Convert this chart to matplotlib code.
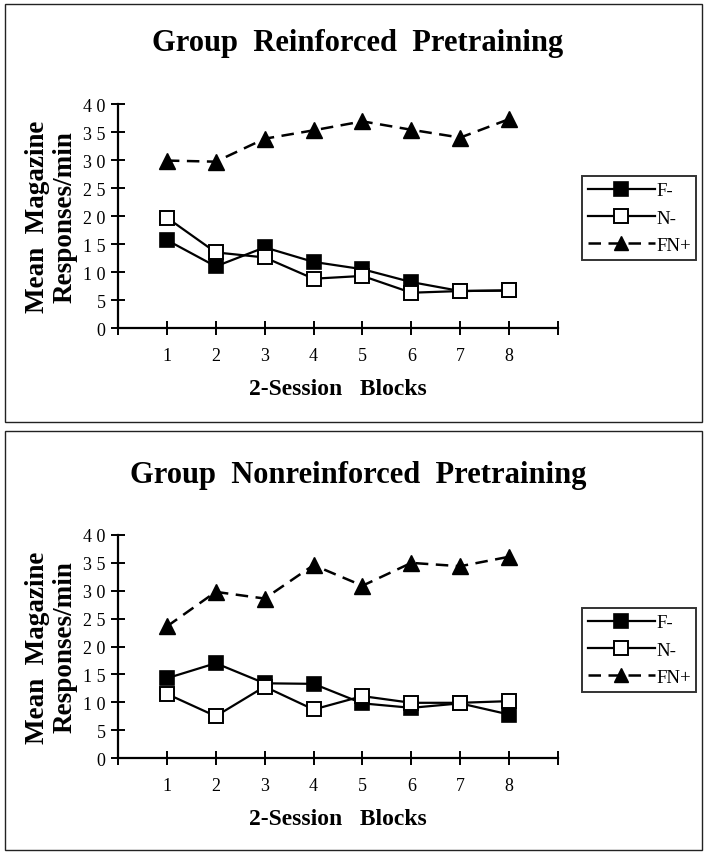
import matplotlib
matplotlib.use("Agg")
import matplotlib.pyplot as plt
from matplotlib.patches import Rectangle

blocks = [1, 2, 3, 4, 5, 6, 7, 8]
y_ticks = [0, 5, 10, 15, 20, 25, 30, 35, 40]
y_tick_labels = ["0", "5", "1 0", "1 5", "2 0", "2 5", "3 0", "3 5", "4 0"]

reinf_F = [15.7, 11.0, 14.4, 11.8, 10.5, 8.2, 6.6, 6.7]
reinf_N = [19.7, 13.5, 12.6, 8.8, 9.3, 6.3, 6.6, 6.7]
reinf_FN = [29.9, 29.7, 33.8, 35.3, 36.9, 35.4, 34.0, 37.3]

nonr_F = [14.3, 17.0, 13.4, 13.3, 9.8, 9.0, 9.8, 7.8]
nonr_N = [11.5, 7.5, 12.8, 8.7, 11.1, 9.9, 9.9, 10.2]
nonr_FN = [23.6, 29.8, 28.6, 34.6, 30.9, 35.0, 34.4, 36.1]

titles = ["Group  Reinforced  Pretraining", "Group  Nonreinforced  Pretraining"]
series_names = ["F-", "N-", "FN+"]
xlabel = "2-Session   Blocks"
ylabel = "Mean  Magazine\nResponses/min"

plt.rcParams['font.family'] = ['Liberation Serif', 'DejaVu Serif']

W, H = 704, 853
fig = plt.figure(figsize=(W / 100, H / 100), dpi=100)


def frame(x0, y0, x1, y1):
    fig.patches.append(Rectangle((x0 / W, 1 - y1 / H), (x1 - x0) / W, (y1 - y0) / H,
                                 transform=fig.transFigure, fill=False,
                                 edgecolor='#222222', linewidth=1.0))


frame(5, 5, 702, 423)
frame(5, 432, 702, 851)

panels = [
    dict(data=(reinf_F, reinf_N, reinf_FN), top=105, bottom=329, title_y=44, legend_y=219),
    dict(data=(nonr_F, nonr_N, nonr_FN), top=536, bottom=759, title_y=475, legend_y=651),
]

ax_left, ax_right = 118, 558

for p, title in zip(panels, titles):
    ax = fig.add_axes([ax_left / W, 1 - p['bottom'] / H,
                       (ax_right - ax_left) / W, (p['bottom'] - p['top']) / H])
    F, N, FN = p['data']
    lF, = ax.plot(blocks, F, '-', color='black', lw=1.6, marker='s', ms=9.5,
                  mfc='black', mec='black', mew=1.2, label=series_names[0], zorder=3)
    lN, = ax.plot(blocks, N, '-', color='black', lw=1.6, marker='s', ms=9.5,
                  mfc='white', mec='black', mew=1.4, label=series_names[1], zorder=4)
    lFN, = ax.plot(blocks, FN, '--', color='black', lw=1.8, marker='^', ms=11,
                   mfc='black', mec='black', dashes=(5, 3), label=series_names[2], zorder=3)
    ax.set_xlim(0, 9)
    ax.set_ylim(0, 40)
    ax.set_xticks(range(0, 10))
    ax.set_xticklabels([""] + [str(b) for b in blocks] + [""])
    ax.set_yticks(y_ticks)
    ax.set_yticklabels(y_tick_labels)
    ax.spines['top'].set_visible(False)
    ax.spines['right'].set_visible(False)
    ax.spines['left'].set_linewidth(1.6)
    ax.spines['bottom'].set_linewidth(1.6)
    ax.tick_params(axis='both', direction='inout', length=10, width=1.4, labelsize=13)
    ax.tick_params(axis='x', pad=9)
    ax.tick_params(axis='y', pad=4)
    ax.set_xlabel(xlabel, fontsize=17, fontweight='bold', labelpad=10)
    ax.set_ylabel(ylabel, fontsize=19.5, fontweight='bold', labelpad=4, linespacing=1.1)
    ax.patch.set_alpha(0)
    fig.text(358 / W, 1 - p['title_y'] / H, title,
             ha='center', va='center', fontsize=22, fontweight='bold')
    leg = ax.legend(handles=[lF, lN, lFN], loc='center left',
                    bbox_to_anchor=(582 / W, 1 - p['legend_y'] / H),
                    bbox_transform=fig.transFigure, frameon=True, fancybox=False,
                    edgecolor='black', fontsize=13.5, handlelength=3.6,
                    handletextpad=0.05, borderpad=0.3, labelspacing=0.55,
                    borderaxespad=0)
    leg.get_frame().set_linewidth(1.4)
    for h in leg.legend_handles:
        h.set_markersize(10)

fig.savefig("out.png", dpi=100)
